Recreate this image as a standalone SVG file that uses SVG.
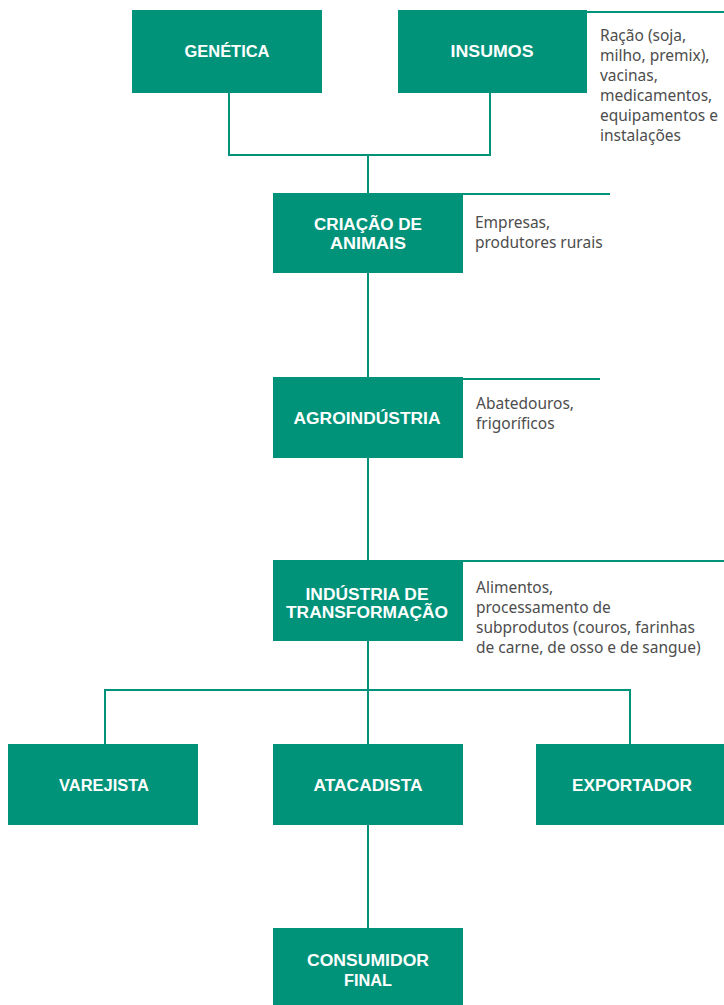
<svg xmlns="http://www.w3.org/2000/svg" width="724" height="1005" viewBox="0 0 724 1005">
<style>
.box{fill:#00937a;}
.lbl{font-family:"Liberation Sans",Arial,sans-serif;font-weight:bold;font-size:16px;fill:#ffffff;text-anchor:middle;}
.desc{font-family:"Noto Sans","Open Sans",sans-serif;font-size:15.5px;fill:#4d4d4d;}
.ln{stroke:#00937a;stroke-width:2;fill:none;}
</style>
<rect width="724" height="1005" fill="#ffffff"/>
<g id="connectors">
<polyline class="ln" points="229,93 229,155 490,155 490,93"/>
<line class="ln" x1="368" y1="155" x2="368" y2="193"/>
<line class="ln" x1="368" y1="273" x2="368" y2="377"/>
<line class="ln" x1="368" y1="458" x2="368" y2="560"/>
<line class="ln" x1="368" y1="641" x2="368" y2="744"/>
<polyline class="ln" points="105,744 105,690 630,690 630,744"/>
<line class="ln" x1="368" y1="825" x2="368" y2="928"/>
<line class="ln" x1="587" y1="12" x2="724" y2="12"/>
<line class="ln" x1="463" y1="194" x2="610" y2="194"/>
<line class="ln" x1="463" y1="379" x2="600" y2="379"/>
<line class="ln" x1="463" y1="561" x2="724" y2="561"/>
</g>
<g id="genetica">
<rect class="box" x="132" y="10" width="190" height="83"/>
<text class="lbl" x="227" y="57" textLength="85" lengthAdjust="spacingAndGlyphs">GENÉTICA</text>
</g>
<g id="insumos">
<rect class="box" x="398" y="10" width="189" height="83"/>
<text class="lbl" x="492" y="57" textLength="83" lengthAdjust="spacingAndGlyphs">INSUMOS</text>
<text class="desc" x="600" y="41">Ração (soja,</text>
<text class="desc" x="600" y="61">milho, premix),</text>
<text class="desc" x="600" y="81">vacinas,</text>
<text class="desc" x="600" y="101">medicamentos,</text>
<text class="desc" x="600" y="121">equipamentos e</text>
<text class="desc" x="600" y="141">instalações</text>
</g>
<g id="criacao">
<rect class="box" x="273" y="193" width="190" height="80"/>
<text class="lbl" x="368" y="230" textLength="108" lengthAdjust="spacingAndGlyphs">CRIAÇÃO DE</text>
<text class="lbl" x="368" y="249" textLength="76" lengthAdjust="spacingAndGlyphs">ANIMAIS</text>
<text class="desc" x="475" y="228">Empresas,</text>
<text class="desc" x="475" y="248">produtores rurais</text>
</g>
<g id="agroindustria">
<rect class="box" x="273" y="377" width="190" height="81"/>
<text class="lbl" x="367" y="424" textLength="147" lengthAdjust="spacingAndGlyphs">AGROINDÚSTRIA</text>
<text class="desc" x="476" y="409">Abatedouros,</text>
<text class="desc" x="476" y="429">frigoríficos</text>
</g>
<g id="industria">
<rect class="box" x="273" y="560" width="190" height="81"/>
<text class="lbl" x="367" y="600" textLength="123" lengthAdjust="spacingAndGlyphs">INDÚSTRIA DE</text>
<text class="lbl" x="367" y="618" textLength="162" lengthAdjust="spacingAndGlyphs">TRANSFORMAÇÃO</text>
<text class="desc" x="476" y="593">Alimentos,</text>
<text class="desc" x="476" y="613">processamento de</text>
<text class="desc" x="476" y="633">subprodutos (couros, farinhas</text>
<text class="desc" x="476" y="653">de carne, de osso e de sangue)</text>
</g>
<g id="varejista">
<rect class="box" x="8" y="744" width="190" height="81"/>
<text class="lbl" x="104" y="791" textLength="90" lengthAdjust="spacingAndGlyphs">VAREJISTA</text>
</g>
<g id="atacadista">
<rect class="box" x="273" y="744" width="190" height="81"/>
<text class="lbl" x="368" y="791" textLength="109" lengthAdjust="spacingAndGlyphs">ATACADISTA</text>
</g>
<g id="exportador">
<rect class="box" x="536" y="744" width="188" height="81"/>
<text class="lbl" x="632" y="791" textLength="120" lengthAdjust="spacingAndGlyphs">EXPORTADOR</text>
</g>
<g id="consumidor">
<rect class="box" x="273" y="928" width="190" height="77"/>
<text class="lbl" x="368" y="966" textLength="122" lengthAdjust="spacingAndGlyphs">CONSUMIDOR</text>
<text class="lbl" x="368" y="986" textLength="48" lengthAdjust="spacingAndGlyphs">FINAL</text>
</g>
</svg>
